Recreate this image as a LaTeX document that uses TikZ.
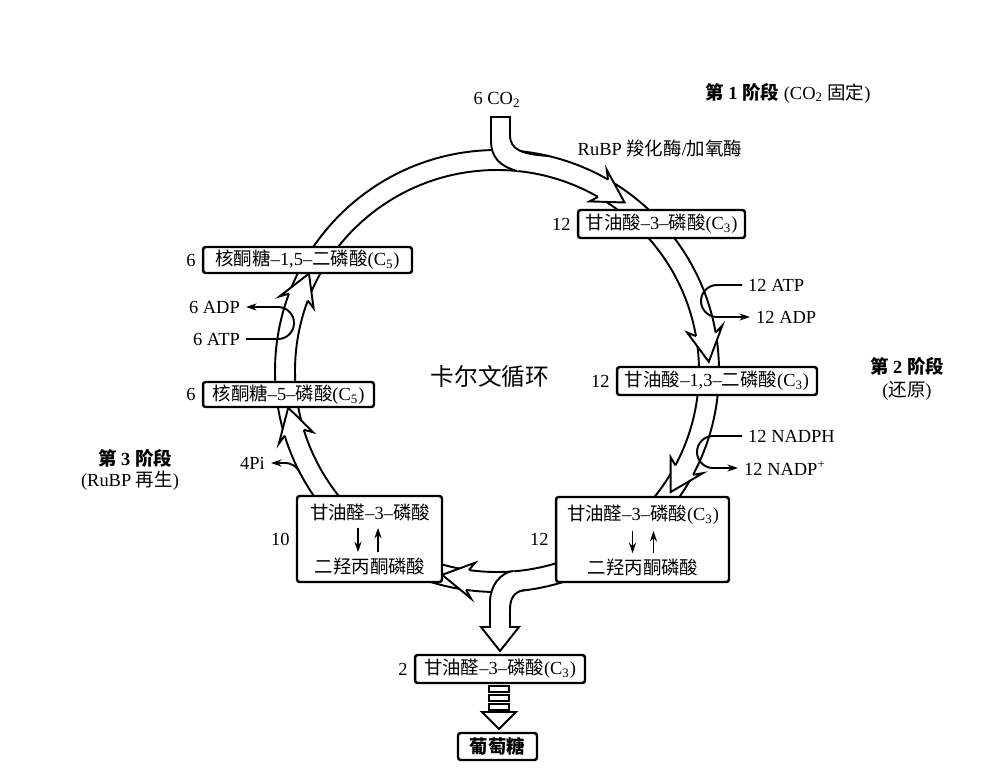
\documentclass[tikz,border=0pt]{standalone}
\usepackage{fontspec}
\setmainfont{Liberation Serif}
\newfontfamily\cjk{Noto Sans CJK SC}
\usetikzlibrary{positioning, arrows.meta}

\newcommand{\zh}[1]{{\cjk #1}}
\newcommand{\bandhead}[2]{%
    \fill [white] (#1:222 and 221) -- ({#1-1.5}:230 and 229) -- (#2:212 and 211) -- ({#1-1.5}:194 and 193) -- (#1:202 and 201) -- cycle;
    \draw [band] (#1:222 and 221) -- ({#1-1.5}:230 and 229) -- (#2:212 and 211) -- ({#1-1.5}:194 and 193) -- (#1:202 and 201);
}

\tikzset{
    box/.style = {draw, line width = 1.4pt, rounded corners = 1.5pt, fill = white, inner sep = 0pt},
    band/.style = {line width = 1.1pt},
    flow/.style = {line width = 1.1pt, -{Stealth[length = 6pt, width = 4pt]}}
}

\begin{document}
\begin{tikzpicture}[x = 0.02cm, y = -0.02cm, every node/.style = {font = \fontsize{10.5pt}{12.5pt}\selectfont}]
    \useasboundingbox (0, 0) rectangle (1000, 774);

    \begin{scope}[shift = {(497, 371)}]
        \draw [band] (0, 0) ellipse [x radius = 222, y radius = 221];
        \draw [band] (0, 0) ellipse [x radius = 202, y radius = 201];
        \coordinate (pi-out) at (152.8:222 and 221);
    \end{scope}

    \fill [white] (491, 117) -- (491, 140) .. controls (491, 158) and (500, 166) .. (517, 171) -- (548, 156) .. controls (522, 154) and (510, 150) .. (510, 135) -- (510, 117) -- cycle;
    \draw [band] (517, 171) .. controls (500, 166) and (491, 158) .. (491, 140) -- (491, 117) -- (510, 117) -- (510, 135) .. controls (510, 150) and (522, 154) .. (548, 156);

    \fill [white] (513, 571) .. controls (500, 573) and (490, 586) .. (490, 602) -- (490, 627) -- (481, 627) -- (500, 651) -- (519, 627) -- (510, 627) -- (510, 610) .. controls (510, 598) and (514, 592) .. (524, 590) -- cycle;
    \draw [band] (513, 571) .. controls (500, 573) and (490, 586) .. (490, 602) -- (490, 627) -- (481, 627) -- (500, 651) -- (519, 627) -- (510, 627) -- (510, 610) .. controls (510, 598) and (514, 592) .. (524, 590);

    \begin{scope}[shift = {(497, 371)}]
        \bandhead{-60}{-53}
        \bandhead{-10}{-2.5}
        \bandhead{28}{35}
        \bandhead{98}{105}
        \bandhead{163}{170}
        \bandhead{200.5}{207.5}
    \end{scope}

    \node (co2) at (497, 100) {6 CO\textsubscript{2}};
    \node (stage1) at (788, 93) {{\bfseries\zh{第} 1 \zh{阶段}} (CO\textsubscript{2} \zh{固定})};
    \node (enzyme) at (660, 148) {RuBP \zh{羧化酶}/\zh{加氧酶}};
    \node (calvin) at (490, 376) {\fontsize{13.5pt}{15pt}\selectfont\zh{卡尔文循环}};
    \node (stage2) at (907, 366) {\bfseries\zh{第} 2 \zh{阶段}};
    \node (stage2-sub) at (907, 391) {(\zh{还原})};
    \node (stage3) at (135, 458) {\bfseries\zh{第} 3 \zh{阶段}};
    \node (stage3-sub) at (130, 481) {(RuBP \zh{再生})};

    \node (atp12) [anchor = west] at (742, 285) {12 ATP};
    \node (adp12) [anchor = west] at (750, 317) {12 ADP};
    \draw [flow] (atp12.west) -- ++(-25, 0) arc [start angle = 270, end angle = 90, radius = 16] -- (adp12.west);
    \node (nadph) [anchor = west] at (742, 436) {12 NADPH};
    \node (nadp) [anchor = west] at (738, 468) {12 NADP\textsuperscript{+}};
    \draw [flow] (nadph.west) -- ++(-29, 0) arc [start angle = 270, end angle = 90, radius = 16] -- (nadp.west);
    \node (atp6) [anchor = east] at (246, 339) {6 ATP};
    \node (adp6) [anchor = east] at (246, 307) {6 ADP};
    \draw [flow] (atp6.east) -- ++(32, 0) arc [start angle = 90, end angle = -90, radius = 16] -- (adp6.east);
    \node (pi4) [anchor = east] at (271, 463) {4Pi};
    \draw [flow] (pi-out) .. controls (296, 466) and (292, 463) .. (284, 463) -- (pi4.east);

    \node (pga) [box, minimum width = 3.34cm, minimum height = 0.56cm] at (661.5, 224) {\zh{甘油酸}--3--\zh{磷酸}(C\textsubscript{3})};
    \node (n-pga) [left = 0pt of pga] {12};
    \node (bpg) [box, minimum width = 4.0cm, minimum height = 0.56cm] at (717, 381) {\zh{甘油酸}--1,3--\zh{二磷酸}(C\textsubscript{3})};
    \node (n-bpg) [left = 0pt of bpg] {12};
    \node (gapR) [box, minimum width = 3.46cm, minimum height = 1.70cm] at (642.5, 539.5) {};
    \node (n-gapR) [left = 0pt of gapR] {12};
    \node (gapR-top) at (643, 515) {\zh{甘油醛}--3--\zh{磷酸}(C\textsubscript{3})};
    \node (gapR-bot) at (643, 568) {\zh{二羟丙酮磷酸}};
    \draw [flow] ([xshift = -0.21cm] gapR-top.south) -- ([xshift = -0.21cm] gapR-bot.north);
    \draw [flow] ([xshift = 0.21cm] gapR-bot.north) -- ([xshift = 0.21cm] gapR-top.south);
    \node (gapL) [box, minimum width = 2.90cm, minimum height = 1.72cm] at (369.5, 539) {};
    \node (n-gapL) [left = 0pt of gapL] {10};
    \node (gapL-top) at (370, 513) {\zh{甘油醛}--3--\zh{磷酸}};
    \node (gapL-bot) at (370, 567) {\zh{二羟丙酮磷酸}};
    \draw [flow] ([xshift = -0.24cm] gapL-top.south) -- ([xshift = -0.24cm] gapL-bot.north);
    \draw [flow] ([xshift = 0.16cm] gapL-bot.north) -- ([xshift = 0.16cm] gapL-top.south);
    \node (ru5p) [box, minimum width = 3.42cm, minimum height = 0.50cm] at (288.5, 394.5) {\zh{核酮糖}--5--\zh{磷酸}(C\textsubscript{5})};
    \node (n-ru5p) [left = 0pt of ru5p] {6};
    \node (rubp) [box, minimum width = 4.18cm, minimum height = 0.52cm] at (307.5, 260) {\zh{核酮糖}--1,5--\zh{二磷酸}(C\textsubscript{5})};
    \node (n-rubp) [left = 0pt of rubp] {6};
    \node (gapOut) [box, minimum width = 3.40cm, minimum height = 0.56cm] at (500, 669) {\zh{甘油醛}--3--\zh{磷酸}(C\textsubscript{3})};
    \node (n-gapOut) [left = 0pt of gapOut] {2};
    \node (glc) [box, minimum width = 1.58cm, minimum height = 0.54cm] at (497.5, 746.5) {\bfseries\zh{葡萄糖}};

    \foreach \y in {686, 695, 704}
        \draw [band] (489, \y) rectangle (509, \y + 6);
    \draw [band] (482, 712) -- (516, 712) -- (499, 729) -- cycle;
\end{tikzpicture}
\end{document}
